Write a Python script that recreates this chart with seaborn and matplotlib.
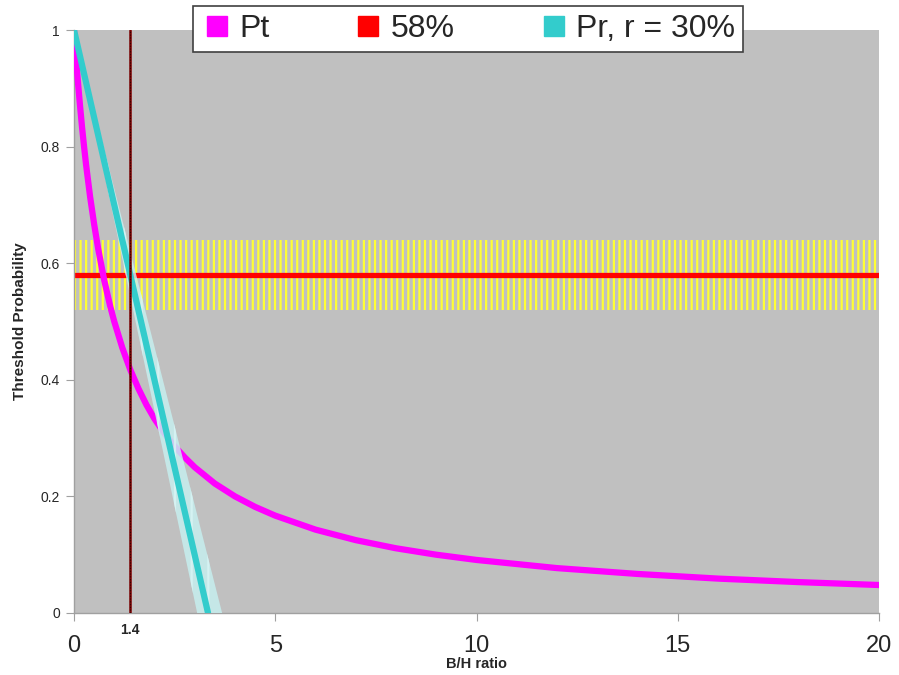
import numpy as np
import pandas as pd
import seaborn as sb
import matplotlib
import matplotlib.pyplot as plt
from matplotlib.lines import Line2D
matplotlib.use('agg')

# Pt curve, values
ptX = [0, 0.05, 0.1, 0.15, 0.2, 0.25, 0.3, 0.4, 0.5, 0.6, 0.75, 0.9, 1, 1.2, 1.4, 1.6, 1.8, 2,
       2.25, 2.5, 2.75, 3, 3.5, 4, 4.5, 5, 6, 7, 8, 9, 10, 12, 14, 16, 18, 20]
ptY = [1, 0.952, 0.909, 0.870, 0.833, 0.8, 0.769, 0.714, 0.667, 0.625, 0.571, 0.526, 0.5, 0.455,
       0.417, 0.385, 0.357, 0.333, 0.308, 0.286, 0.267, 0.25, 0.222, 0.2, 0.182, 0.167,
       0.143, 0.125, 0.111, 0.1, 0.091, 0.077, 0.067, 0.059, 0.053, 0.048]
# Pr line (r = 30%) and its spread
prX = [0, 3.33]
prY = [1, 0]
prLowX = [0, 3.06]
prHighX = [0, 3.68]
# threshold 58% and its band
threshold = 0.58
bandLow = 0.52
bandHigh = 0.64
bhMark = 1.4

xTicks = [0, 5, 10, 15, 20]
yTicks = [0, 0.2, 0.4, 0.6, 0.8, 1]
yTickLabels = ["0", "0.2", "0.4", "0.6", "0.8", "1"]
legendLabels = ["Pt", "58%", "Pr, r = 30%"]

sb.set_style("ticks")
plt.rcParams['font.family'] = ['Liberation Sans', 'DejaVu Sans']
plt.rcParams['hatch.linewidth'] = 1.6
plt.rcParams['hatch.color'] = '#ffff33'

fig = plt.figure(figsize=(8.99, 6.75), dpi=100)
ax = fig.add_axes([74 / 899, 1 - 613 / 675, 805 / 899, 583 / 675])
ax.set_facecolor('#c0c0c0')

# yellow band round the threshold
ax.fill_between([0, 20], [bandLow, bandLow], [bandHigh, bandHigh], facecolor='none',
                edgecolor='#ffff33', hatch='|||', linewidth=0, zorder=1)
ax.axhline(threshold, color='#ff0000', lw=3.8, zorder=2)

ptFrame = pd.DataFrame({"x": ptX, "y": ptY})
sb.lineplot(data=ptFrame, x="x", y="y", color='#ff00ff', lw=4.5, ax=ax, zorder=3)

# light cyan spread of Pr
ax.fill([prLowX[0], prLowX[1], prHighX[1]], [prY[0], prY[1], prY[1]],
        facecolor='#c6eeee', edgecolor='#d8f4f4', hatch='|', linewidth=0, alpha=0.85, zorder=4)
prFrame = pd.DataFrame({"x": prX, "y": prY})
sb.lineplot(data=prFrame, x="x", y="y", color='#33cccc', lw=4.5, ax=ax, zorder=5)

ax.axvline(bhMark, color='#7a0000', lw=1.8, zorder=6)
ax.axvline(bhMark, color='#300000', lw=0.8, ls=(0, (1, 1.5)), zorder=7)

ax.set_xlim(0, 20)
ax.set_ylim(0, 1)
ax.set_xticks(xTicks)
ax.set_xticklabels([str(t) for t in xTicks], fontsize=17)
ax.set_yticks(yTicks)
ax.set_yticklabels(yTickLabels, fontsize=10)
ax.tick_params(axis='x', length=6, color='#a0a0a0', pad=10)
ax.tick_params(axis='y', length=6, color='#a0a0a0', pad=4)
for s in ['top', 'right']:
    ax.spines[s].set_visible(False)
for s in ['left', 'bottom']:
    ax.spines[s].set_color('#a0a0a0')
    ax.spines[s].set_linewidth(1)

ax.text(bhMark, -0.03, "1.4", transform=ax.get_xaxis_transform(), ha='center', va='center',
        fontsize=10, fontweight='bold')
ax.set_xlabel("B/H ratio", fontsize=10.5, fontweight='bold', labelpad=0)
ax.set_ylabel("Threshold Probability", fontsize=11, fontweight='bold', labelpad=10)

handles = [Line2D([], [], marker='s', ls='none', color=c, markersize=15)
           for c in ['#ff00ff', '#ff0000', '#33cccc']]
leg = fig.legend(handles, legendLabels, loc='center', bbox_to_anchor=(468 / 899, 1 - 29 / 675),
                 ncol=3, fontsize=23, frameon=True, fancybox=False, edgecolor='#404040',
                 handletextpad=0.2, columnspacing=2.6, borderpad=0.25, handlelength=1.0)
leg.get_frame().set_linewidth(1.2)
leg.get_frame().set_alpha(1)

plt.savefig("out.png", dpi=100)
plt.close()
